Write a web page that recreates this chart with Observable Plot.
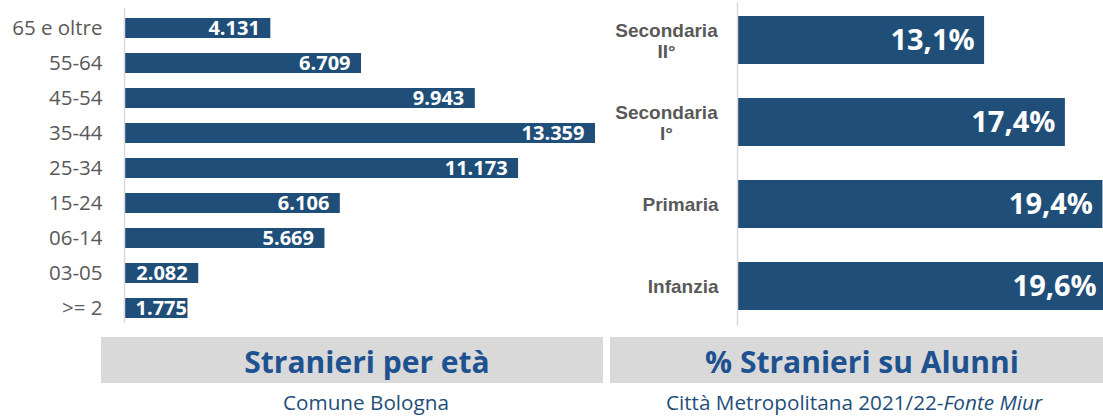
<!DOCTYPE html>
<html><head><meta charset="utf-8">
<script src="https://cdn.jsdelivr.net/npm/d3@7"></script>
<script src="https://cdn.jsdelivr.net/npm/@observablehq/plot@0.6"></script>
<style>
html,body{margin:0;padding:0;background:#fff;width:1103px;height:416px;overflow:hidden;position:relative;font-family:"Open Sans",sans-serif}
.abs{position:absolute}
#left{left:0;top:0}
#right{left:600px;top:0;width:503px;overflow:hidden}
.banner{position:absolute;top:337px;height:46px;background:#d9d9d9}
.title{position:absolute;top:339px;height:46px;line-height:46px;font-weight:700;font-size:30px;color:#1d5190;text-align:center;white-space:nowrap}
.cap{position:absolute;top:389px;height:26px;line-height:26px;font-size:20.7px;color:#1f4e79;text-align:center;white-space:nowrap}
</style></head><body>
<div id="left" class="abs"></div>
<div id="right" class="abs"></div>
<div class="banner" style="left:101px;width:502px"></div>
<div class="banner" style="left:610px;width:493px"></div>
<div class="title" style="left:167px;width:400px">Stranieri per età</div>
<div class="title" style="left:662px;width:400px">% Stranieri su Alunni</div>
<div class="cap" style="left:216px;width:300px">Comune Bologna</div>
<div class="cap" style="left:654px;width:400px">Città Metropolitana 2021/22-<i>Fonte Miur</i></div>
<script>
// Data
const ageGroups = ["65 e oltre", "55-64", "45-54", "35-44", "25-34", "15-24", "06-14", "03-05", ">= 2"];
const ageCounts = [4131, 6709, 9943, 13359, 11173, 6106, 5669, 2082, 1775];
const schoolLevels = ["Secondaria\nII°", "Secondaria\nI°", "Primaria", "Infanzia"];
const schoolShares = [13.1, 17.4, 19.4, 19.6];

const barColor = "#1f4e79";
const itLocale = d3.formatLocale({decimal: ",", thousands: ".", grouping: [3], currency: ["€", ""]});
const fmtInt = itLocale.format(",d");
const fmtPct = v => v.toFixed(1).replace(".", ",") + "%";

const ageData = ageGroups.map((k, i) => ({k, v: ageCounts[i]}));
const schoolData = schoolLevels.map((k, i) => ({k, v: schoolShares[i]}));

const left = Plot.plot({
  width: 600, height: 336,
  marginLeft: 125, marginRight: 5, marginTop: 0, marginBottom: 0,
  x: {domain: [0, 13359], axis: null},
  y: {domain: ageGroups, padding: 0.44, axis: null},
  style: {fontFamily: "Open Sans", background: "transparent"},
  marks: [
    Plot.barX(ageData, {x: "v", y: "k", fill: barColor}),
    Plot.ruleX([0], {stroke: "#d9d9d9", strokeWidth: 1.5, insetTop: 8, insetBottom: 13, dx: -1}),
    Plot.text(ageData, {y: "k", text: "k", frameAnchor: "left", textAnchor: "end", dx: -23,
      fontSize: 20.5, fill: "#595959", fontFamily: "Open Sans"}),
    Plot.text(ageData, {filter: d => d.v >= 2000, x: "v", y: "k", text: d => fmtInt(d.v),
      textAnchor: "end", dx: -11, fill: "white", fontWeight: "bold", fontSize: 20, fontFamily: "Open Sans"}),
    Plot.text(ageData, {filter: d => d.v < 2000, x: 0, y: "k", text: d => fmtInt(d.v),
      textAnchor: "start", dx: 10, fill: "white", fontWeight: "bold", fontSize: 20, fontFamily: "Open Sans"})
  ]
});
document.getElementById("left").appendChild(left);

const right = Plot.plot({
  width: 503, height: 326,
  marginLeft: 138, marginRight: 0, marginTop: 0, marginBottom: 0,
  x: {domain: [0, 19.43], axis: null},
  y: {domain: schoolLevels, paddingInner: 0.42, paddingOuter: 0.18, axis: null},
  style: {fontFamily: "Open Sans", background: "transparent"},
  marks: [
    Plot.barX(schoolData, {x: "v", y: "k", fill: barColor}),
    Plot.ruleX([0], {stroke: "#d9d9d9", strokeWidth: 1.5, insetTop: 2, dx: -1}),
    Plot.text(schoolData, {filter: d => d.k.includes("\n"), y: "k", text: "k", frameAnchor: "left",
      textAnchor: "middle", dx: -72, lineHeight: 1.13,
      fontSize: 19, fontWeight: "bold", fill: "#595959", fontFamily: "Liberation Sans"}),
    Plot.text(schoolData, {filter: d => !d.k.includes("\n"), y: "k", text: "k", frameAnchor: "left",
      textAnchor: "end", dx: -20,
      fontSize: 19, fontWeight: "bold", fill: "#595959", fontFamily: "Liberation Sans"}),
    Plot.text(schoolData, {x: "v", y: "k", text: d => fmtPct(d.v), textAnchor: "end", dx: -10,
      fill: "white", fontWeight: "bold", fontSize: 29, fontFamily: "Open Sans"})
  ]
});
document.getElementById("right").appendChild(right);
</script>
</body></html>
